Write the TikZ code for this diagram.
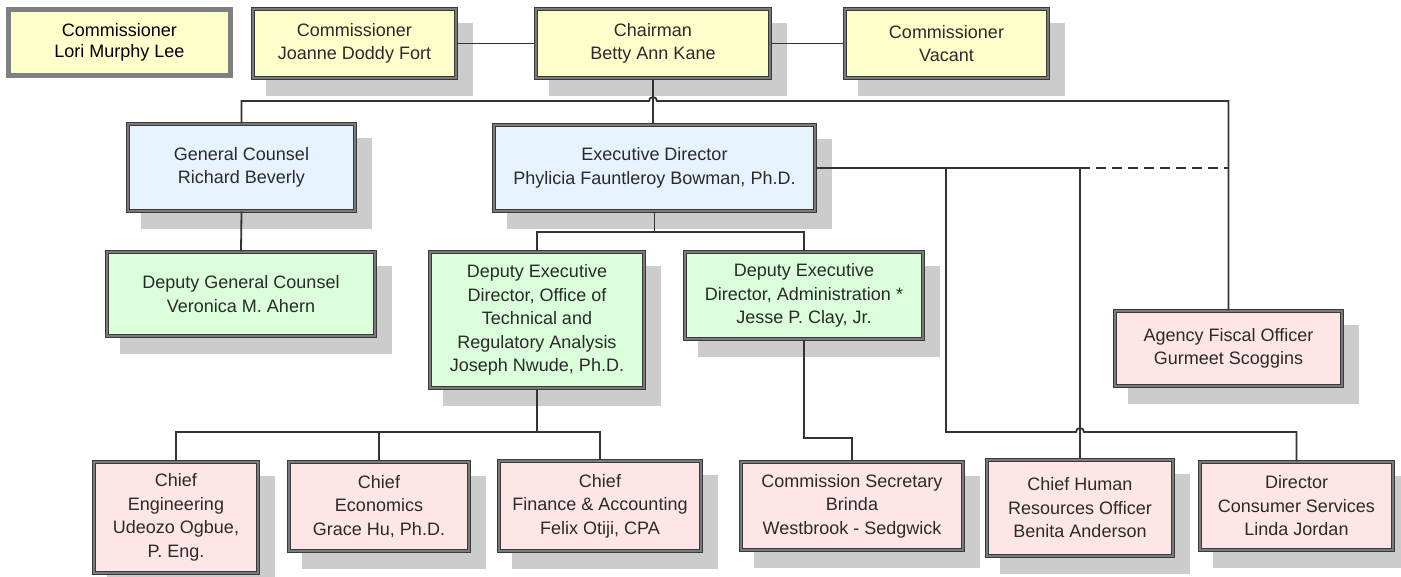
\documentclass[tikz,border=0pt]{standalone}
\usepackage{fontspec}
\setmainfont{Liberation Sans}
\pgfdeclarelayer{bg}
\pgfsetlayers{bg,main}
\definecolor{cyel}{HTML}{FFFFCC}
\definecolor{cblu}{HTML}{E6F3FF}
\definecolor{cgrn}{HTML}{DAFFDA}
\definecolor{cpnk}{HTML}{FFE6E6}
\definecolor{cshd}{HTML}{CCCCCC}
\definecolor{cln}{HTML}{333333}
\definecolor{cbrd}{HTML}{3A3A3A}
\definecolor{cbrdm}{HTML}{7A7A7A}
\definecolor{clori}{HTML}{808080}
\definecolor{ctxt}{HTML}{2A2A2A}
\tikzset{
 obox/.style={draw=cbrd, line width=1.3pt, double=cbrdm, double distance=1.4pt,
   align=center, inner sep=0pt, text=ctxt, font=\fontsize{18}{23.5}\selectfont},
 lbox/.style={draw=clori, line width=5pt, fill=cyel, align=center, inner sep=0pt,
   text=black, font=\fontsize{18}{21}\selectfont},
 conn/.style={draw=cln, line width=1.8pt},
 dconn/.style={draw=cln, line width=1.8pt, dash pattern=on 10pt off 6pt},
}
\newcommand\orgbox[7]{%
 \begin{pgfonlayer}{bg}\fill[cshd] (#2+15,#3+16) rectangle (#4+15,#5+16);\end{pgfonlayer}
 \node[obox, fill=#6, minimum width={#4pt-#2pt-4pt}, minimum height={#5pt-#3pt-4pt}] (#1) at ({(#2+#4)/2},{(#3+#5)/2}) {#7};
}
\begin{document}
\begin{tikzpicture}[x=1pt,y=-1pt]
\begin{pgfonlayer}{bg}
\fill[white] (0,0) rectangle (1401,577);
\end{pgfonlayer}
\useasboundingbox (0,0) rectangle (1401,577);
% top row
\node[lbox, minimum width=222pt, minimum height=66pt] (lori) at (119.5,42.5) {Commissioner\\Lori Murphy Lee};
\orgbox{joanne}{251}{7}{458}{80}{cyel}{Commissioner\\Joanne Doddy Fort}
\orgbox{chair}{534}{7}{772}{80}{cyel}{Chairman\\Betty Ann Kane}
\orgbox{vacant}{843}{7}{1050}{80}{cyel}{Commissioner\\Vacant}
% second row
\orgbox{gc}{126}{122}{357}{213}{cblu}{General Counsel\\Richard Beverly}
\orgbox{ed}{492}{123}{817}{213}{cblu}{Executive Director\\Phylicia Fauntleroy Bowman, Ph.D.}
% third row
\orgbox{dgc}{105}{250}{377}{338}{cgrn}{Deputy General Counsel\\Veronica M. Ahern}
\orgbox{dedt}{428}{250}{646}{390}{cgrn}{Deputy Executive\\Director, Office of\\Technical and\\Regulatory Analysis\\Joseph Nwude, Ph.D.}
\orgbox{deda}{683}{250}{925}{341}{cgrn}{Deputy Executive\\Director, Administration *\\Jesse P. Clay, Jr.}
\orgbox{afo}{1113}{309}{1344}{388}{cpnk}{Agency Fiscal Officer\\Gurmeet Scoggins}
% bottom row
\orgbox{eng}{92}{460}{260}{575}{cpnk}{Chief\\Engineering\\Udeozo Ogbue,\\P. Eng.}
\orgbox{econ}{287}{460}{471}{553}{cpnk}{Chief\\Economics\\Grace Hu, Ph.D.}
\orgbox{fin}{497}{459}{703}{553}{cpnk}{Chief\\Finance \& Accounting\\Felix Otiji, CPA}
\orgbox{sec}{739}{460}{965}{552}{cpnk}{Commission Secretary\\Brinda\\Westbrook - Sedgwick}
\orgbox{hr}{985}{458}{1175}{558}{cpnk}{Chief Human\\Resources Officer\\Benita Anderson}
\orgbox{dir}{1198}{460}{1395}{552}{cpnk}{Director\\Consumer Services\\Linda Jordan}
% connectors
\draw[conn] (joanne.east) -- (chair.west);
\draw[conn] (chair.east) -- (vacant.west);
\draw[conn] (chair.south) -- (chair.south |- ed.north);
\draw[conn] (gc.north) -- (gc.north |- 0,101) -- (649,101) arc[start angle=180,end angle=360,radius=4] -- (afo.north |- 0,101) -- (afo.north);
\draw[conn] (gc.south) -- (dgc.north);
\draw[conn] (ed.south) -- (ed.south |- 0,232);
\draw[conn] (dedt.north) -- (dedt.north |- 0,232) -- (deda.north |- 0,232) -- (deda.north);
\draw[conn] (ed.east) -- (hr.north |- ed.east) -- (hr.north);
\draw[dconn] (hr.north |- ed.east) -- (afo.north |- ed.east);
\draw[conn] (946,168) -- (946,432) -- (1076,432) arc[start angle=180,end angle=360,radius=4] -- (dir.north |- 0,432) -- (dir.north);
\draw[conn] (deda.south) -- (deda.south |- 0,438) -- (sec.north |- 0,438) -- (sec.north);
\draw[conn] (dedt.south) -- (dedt.south |- 0,432);
\draw[conn] (eng.north) -- (eng.north |- 0,432) -- (fin.north |- 0,432) -- (fin.north);
\draw[conn] (econ.north) -- (econ.north |- 0,432);
\end{tikzpicture}
\end{document}
